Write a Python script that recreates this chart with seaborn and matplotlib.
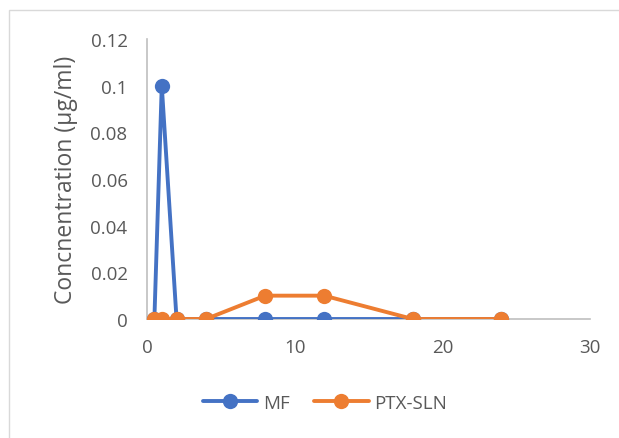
import matplotlib
matplotlib.use("Agg")
import matplotlib.pyplot as plt
from matplotlib.patches import Rectangle
from matplotlib.ticker import FuncFormatter, MultipleLocator
import numpy as np
import pandas as pd
import seaborn as sns

# Sampling times (h) and plasma concentrations (µg/ml)
time_h = [0.5, 1, 2, 4, 8, 12, 18, 24]
mf_conc = [0, 0.1, 0, 0, 0, 0, 0, 0]
ptx_sln_conc = [0, 0, 0, 0, 0.01, 0.01, 0, 0]
series_names = ["MF", "PTX-SLN"]
series_colors = ["#4472C4", "#ED7D31"]

df = pd.DataFrame({
    "time": time_h * 2,
    "conc": mf_conc + ptx_sln_conc,
    "series": [series_names[0]] * len(time_h) + [series_names[1]] * len(time_h),
})

sns.set_theme(style="white")
plt.rcParams["font.family"] = ["Open Sans", "DejaVu Sans"]
text_color = "#595959"

fig = plt.figure(figsize=(6.19, 4.39), dpi=100)
ax = fig.add_axes([147 / 619, 1 - 320 / 439, (590 - 147) / 619, (320 - 40) / 439])

sns.lineplot(
    data=df, x="time", y="conc", hue="series", hue_order=series_names,
    palette=series_colors, marker="o", markersize=11, markeredgewidth=0,
    linewidth=2.8, ax=ax, sort=False,
)

ax.set_xlim(0, 30)
ax.set_ylim(0, 0.12)
ax.xaxis.set_major_locator(MultipleLocator(10))
ax.yaxis.set_major_locator(MultipleLocator(0.02))
ax.yaxis.set_major_formatter(FuncFormatter(lambda v, p: f"{round(v, 4):g}"))
ax.tick_params(axis="both", length=0, labelsize=13.5, labelcolor=text_color)
ax.tick_params(axis="y", pad=14)
ax.tick_params(axis="x", pad=14)

for side in ["top", "right"]:
    ax.spines[side].set_visible(False)
for side in ["left", "bottom"]:
    ax.spines[side].set_color("#BFBFBF")
    ax.spines[side].set_linewidth(1.2)
    ax.spines[side].set_zorder(0)
ax.set_xlabel("")
ax.set_ylabel("Concnentration (µg/ml)", fontsize=16.5, color=text_color, labelpad=9)

leg = ax.legend(
    loc="center", bbox_to_anchor=(325 / 619, 1 - 404 / 439),
    bbox_transform=fig.transFigure, ncol=2, frameon=False, fontsize=13.5,
    handlelength=2.9, columnspacing=1.3, handletextpad=0.3,
)
for t in leg.get_texts():
    t.set_color(text_color)

# Chart-area border
fig.patches.append(Rectangle((9 / 619, -0.1), 2.0, 1 - 11 / 439 + 0.1,
                             transform=fig.transFigure, fill=False,
                             edgecolor="#D9D9D9", linewidth=1))

fig.savefig("out.png", dpi=100)
